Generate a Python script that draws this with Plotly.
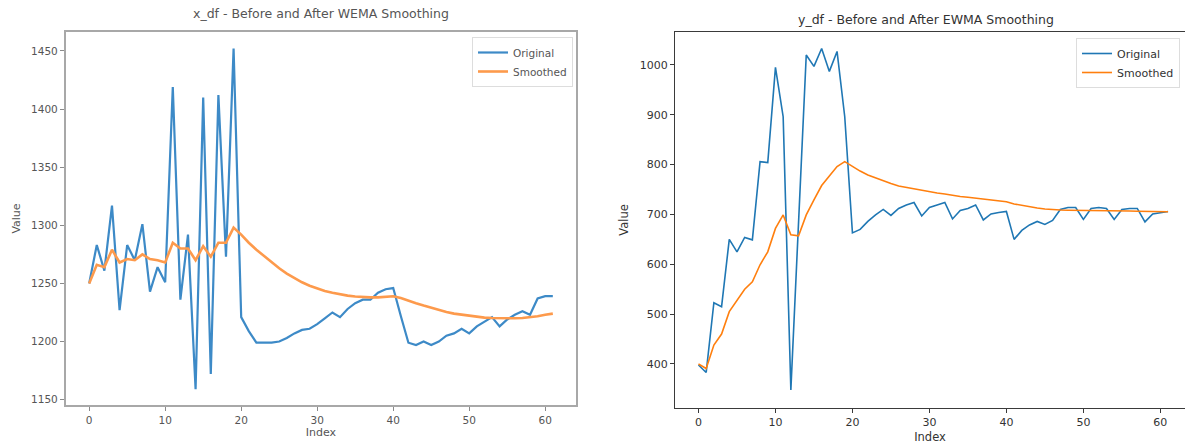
import plotly.graph_objects as go

index = list(range(62))

x_original = [1250, 1283, 1261, 1317, 1227, 1283, 1270, 1301, 1243, 1264,
              1251, 1419, 1236, 1292, 1159, 1410, 1172, 1412, 1273, 1452,
              1221, 1209, 1199, 1199, 1199, 1200, 1203, 1207, 1210, 1211,
              1215, 1220, 1225, 1221, 1228, 1233, 1236, 1236, 1242, 1245,
              1246, 1222, 1199, 1197, 1200, 1197, 1200, 1205, 1207, 1211,
              1207, 1213, 1217, 1221, 1213, 1219, 1223, 1226, 1223, 1237,
              1239, 1239]
x_smoothed = [1250, 1266, 1264, 1279, 1268, 1271, 1270, 1275, 1271, 1270,
              1268, 1285, 1280, 1280, 1270, 1282, 1273, 1285, 1285, 1298,
              1292, 1285, 1279, 1273.5, 1268, 1263, 1258.5, 1254.5, 1251, 1248,
              1245.5, 1243.5, 1242, 1240.5, 1239.5, 1238.8, 1238.2, 1238, 1238, 1238.5,
              1239, 1237.5, 1235, 1233, 1231, 1229, 1227, 1225.5, 1224, 1223,
              1222, 1221.2, 1220.6, 1220.3, 1220, 1220, 1220, 1220.3, 1220.8, 1221.8,
              1223, 1224]

y_original = [398, 383, 523, 515, 650, 625, 654, 649, 806, 804,
              995, 896, 348, 680, 1020, 997, 1033, 987, 1027, 896,
              663, 670, 686, 699, 710, 698, 712, 719, 724, 697,
              714, 719, 724, 691, 708, 712, 719, 689, 701, 704,
              706, 650, 668, 679, 686, 680, 688, 710, 714, 714,
              690, 712, 714, 712, 690, 710, 712, 712, 685, 701,
              704, 706]
y_smoothed = [400, 391, 438, 460, 505, 528, 550, 565, 599, 625,
              672, 699, 659, 657, 699, 729, 758, 777, 796, 806,
              796, 787, 779, 773, 767, 762, 757, 754, 751, 748,
              745, 743, 741, 738, 736, 734.5, 733, 731, 729, 727,
              725.5, 721, 718, 715.5, 713, 711, 709.5, 709, 708.5, 708.5,
              708, 708, 707.5, 707.5, 707, 707, 707, 706.5, 706, 706,
              705.5, 705.5]

left_title = "x_df - Before and After WEMA Smoothing"
right_title = "y_df - Before and After EWMA Smoothing"
x_ticks = [0, 10, 20, 30, 40, 50, 60]
left_y_ticks = [1150, 1200, 1250, 1300, 1350, 1400, 1450]
right_y_ticks = [400, 500, 600, 700, 800, 900, 1000]

W, H = 1185, 445
FONT = "DejaVu Sans"

def px_x(p):
    return p / W

def px_y(p):
    return 1 - p / H

fig = go.Figure()
fig.add_trace(go.Scatter(x=index, y=x_original, mode="lines", name="Original",
                         line=dict(color="#3d8ac7", width=2.2), legend="legend",
                         xaxis="x", yaxis="y"))
fig.add_trace(go.Scatter(x=index, y=x_smoothed, mode="lines", name="Smoothed",
                         line=dict(color="#fd9a4c", width=2.6), legend="legend",
                         xaxis="x", yaxis="y"))
fig.add_trace(go.Scatter(x=index, y=y_original, mode="lines", name="Original",
                         line=dict(color="#1f77b4", width=1.6), legend="legend2",
                         xaxis="x2", yaxis="y2"))
fig.add_trace(go.Scatter(x=index, y=y_smoothed, mode="lines", name="Smoothed",
                         line=dict(color="#ff7f0e", width=1.6), legend="legend2",
                         xaxis="x2", yaxis="y2"))

left_axis_common = dict(showgrid=False, zeroline=False, showline=True, mirror=True,
                        linecolor="#a8a8a8", linewidth=2.2, ticks="outside",
                        ticklen=4, tickcolor="#8a8a8a", tickwidth=1.2,
                        tickfont=dict(family=FONT, size=10.5, color="#555555"))
right_axis_common = dict(showgrid=False, zeroline=False, showline=True, mirror=True,
                         linecolor="#3a3a3a", linewidth=1, ticks="outside",
                         ticklen=4, tickcolor="#3a3a3a", tickwidth=1,
                         tickfont=dict(family=FONT, size=11, color="#333333"))

fig.update_layout(
    width=W, height=H,
    margin=dict(l=0, r=0, t=0, b=0),
    paper_bgcolor="white", plot_bgcolor="white",
    font=dict(family=FONT),
    xaxis=dict(domain=[px_x(66), px_x(576)], range=[-3.05, 64.05],
               tickvals=x_ticks, anchor="y",
               title=dict(text="Index", font=dict(family=FONT, size=11, color="#555555"), standoff=4),
               **left_axis_common),
    yaxis=dict(domain=[px_y(405), px_y(32)], range=[1145.4, 1466.3],
               tickvals=left_y_ticks, anchor="x",
               title=dict(text="Value", font=dict(family=FONT, size=11, color="#555555"), standoff=8),
               **left_axis_common),
    xaxis2=dict(domain=[px_x(675), 1.0], range=[-3.05, 63.2],
                tickvals=x_ticks, anchor="y2",
                title=dict(text="Index", font=dict(family=FONT, size=11.5, color="#333333"), standoff=4),
                **right_axis_common),
    yaxis2=dict(domain=[px_y(408), px_y(32)], range=[311.7, 1066],
                tickvals=right_y_ticks, anchor="x2",
                title=dict(text="Value", font=dict(family=FONT, size=11.5, color="#333333"), standoff=8),
                **right_axis_common),
    legend=dict(x=px_x(573), y=px_y(37), xanchor="right", yanchor="top",
                bgcolor="white", bordercolor="#dddddd", borderwidth=1,
                font=dict(family=FONT, size=10.5, color="#555555"),
                itemwidth=30, tracegroupgap=0),
    legend2=dict(x=px_x(1180), y=px_y(38), xanchor="right", yanchor="top",
                 bgcolor="white", bordercolor="#dddddd", borderwidth=1,
                 font=dict(family=FONT, size=11, color="#333333"),
                 itemwidth=30, tracegroupgap=0),
    annotations=[
        dict(text=left_title, x=px_x(321), y=px_y(14), xref="paper", yref="paper",
             showarrow=False, xanchor="center", yanchor="middle",
             font=dict(family=FONT, size=12.5, color="#555555")),
        dict(text=right_title, x=px_x(926), y=px_y(19), xref="paper", yref="paper",
             showarrow=False, xanchor="center", yanchor="middle",
             font=dict(family=FONT, size=12.5, color="#333333")),
    ],
)

fig.write_html("out.html", config={"displayModeBar": False},
               post_script="document.body.style.margin='0';document.body.style.overflow='hidden';")
